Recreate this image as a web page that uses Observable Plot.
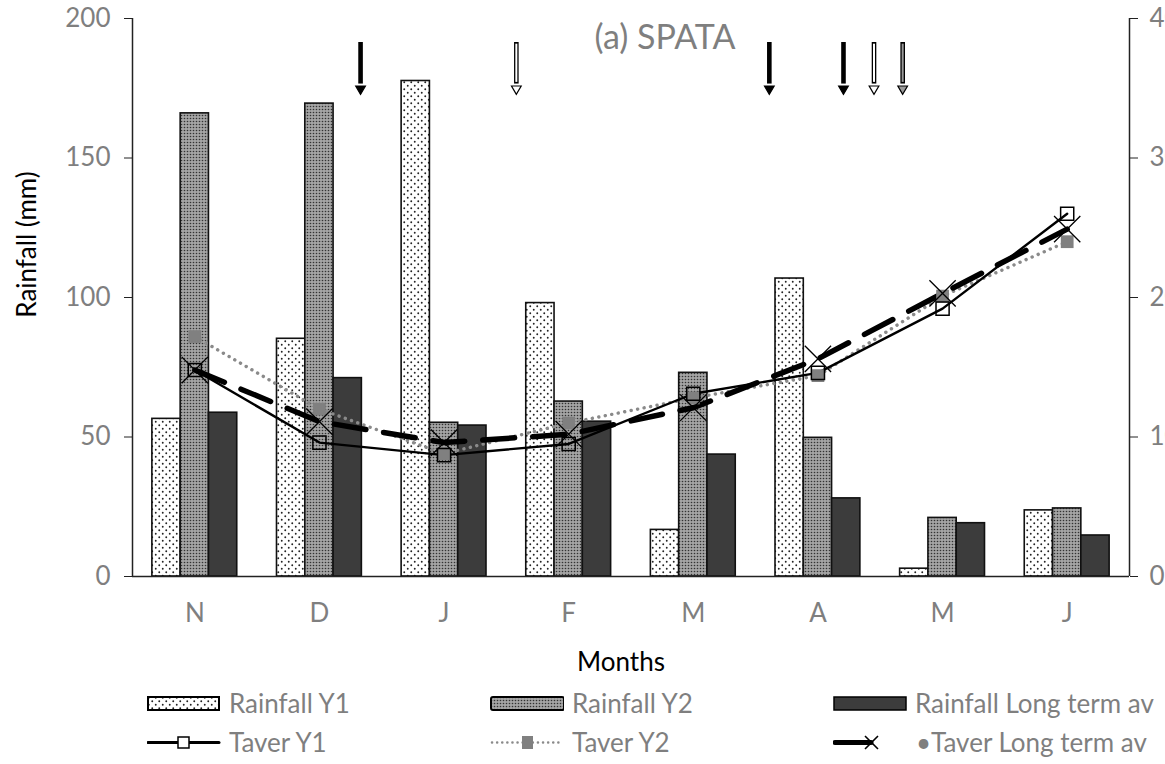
<!DOCTYPE html>
<html>
<head>
<meta charset="utf-8">
<script src="https://cdn.jsdelivr.net/npm/d3@7"></script>
<script src="https://cdn.jsdelivr.net/npm/@observablehq/plot@0.6"></script>
<style>
  body { margin: 0; background: #fff; font-family: Lato, "Open Sans", sans-serif; }
  #chart svg { display: block; }
  #legend { position: relative; width: 1165px; height: 84px; }
  .item { position: absolute; display: flex; align-items: center; height: 30px; }
  .item span { font-size: 26px; color: #7f7f7f; margin-left: 8px; white-space: nowrap; }
  .item svg { display: block; }
</style>
</head>
<body>
<div id="chart"></div>
<div id="legend"></div>
<script>
// Months of the growing season (November to June)
const months = ["N", "D", "J", "F", "M", "A", "M", "J"];

// Monthly rainfall (mm)
const rainY1 = [56.5, 85.2, 177.6, 98, 16.7, 106.8, 2.8, 23.7];
const rainY2 = [166, 169.5, 55.1, 62.7, 73, 49.7, 21, 24.4];
const rainLT = [58.7, 71.1, 54.1, 55.5, 43.7, 28, 19.1, 14.7];

// Mean air temperature (°C)
const tempY1 = [14.8, 9.6, 8.7, 9.5, 13.1, 14.6, 19.2, 26.0];
const tempY2 = [17.2, 12.0, 8.8, 11.0, 12.8, 14.4, 20.1, 24.0];
const tempLT = [14.8, 11.1, 9.6, 10.2, 12.1, 15.6, 20.3, 24.9];

// Field operations marked by arrows (position in months from start of November)
const eventAt = [1.83, 3.08, 5.11, 5.705, 5.95, 6.18];
const eventKind = ["black", "white", "black", "black", "white", "gray"];

// Axis ticks
const rainTicks = [0, 50, 100, 150, 200];
const tempTicks = [0, 10, 20, 30, 40];

// Temperature axis (0–40) shares the rainfall axis (0–200)
const tScale = 200 / 40;
const bw = 0.227; // bar width in month units

const rows = (vals) => vals.map((v, i) => ({ i, v }));
const barMark = (vals, k, fill) =>
  Plot.rectY(rows(vals), {
    x1: d => d.i + 0.5 + (k - 1.5) * bw,
    x2: d => d.i + 0.5 + (k - 0.5) * bw,
    y1: 0, y2: "v",
    fill, stroke: "#111", strokeWidth: 1.6
  });

const tRows = (vals) => vals.map((t, i) => ({ x: i + 0.5, y: t * tScale }));
const events = eventAt.map((x, j) => ({ x, kind: eventKind[j] }));
const evTop = 191.4, evShaftEnd = 176.5, evHead = 174.8;

const gray = "#7f7f7f";

const chart = Plot.plot({
  width: 1165,
  height: 680,
  marginLeft: 132,
  marginRight: 36,
  marginTop: 18,
  marginBottom: 104,
  x: { domain: [0, 8] },
  y: { domain: [0, 200] },
  style: { fontFamily: "Lato, 'Open Sans', sans-serif", background: "white" },
  marks: [
    barMark(rainY1, 0, "url(#pY1)"),
    barMark(rainY2, 1, "url(#pY2)"),
    barMark(rainLT, 2, "#3c3c3c"),

    // frame lines
    Plot.ruleX([0, 8], { stroke: "#222", strokeWidth: 1.5 }),
    Plot.ruleY([0], { stroke: "#222", strokeWidth: 1.5 }),

    // temperature series
    Plot.line(tRows(tempY2), { x: "x", y: "y", stroke: "#8a8a8a", strokeWidth: 3.4, strokeDasharray: "0.1,6.5", strokeLinecap: "round" }),
    Plot.line(tRows(tempY1), { x: "x", y: "y", stroke: "#000", strokeWidth: 2.4 }),
    Plot.line(tRows(tempLT), { x: "x", y: "y", stroke: "#000", strokeWidth: 5.5, strokeDasharray: "32,18", strokeLinecap: "round" }),
    Plot.dot(tRows(tempY2), { x: "x", y: "y", symbol: "square", r: 7.2, fill: "#808080" }),
    Plot.dot(tRows(tempY1), { x: "x", y: "y", symbol: "square", r: 7.4, fill: "none", stroke: "#000", strokeWidth: 1.5 }),
    Plot.dot(tRows(tempLT), { x: "x", y: "y", symbol: "times", r: 12, stroke: "#000", strokeWidth: 1.3 }),

    // event arrows
    Plot.ruleX(events, { x: "x", y1: evShaftEnd, y2: evTop, stroke: "#000", strokeWidth: 4.6 }),
    Plot.ruleX(events.filter(d => d.kind !== "black"), {
      x: "x", y1: evShaftEnd + 0.6, y2: evTop - 0.6,
      stroke: d => d.kind === "white" ? "#fff" : "#9a9a9a", strokeWidth: 2
    }),
    Plot.dot(events, {
      x: "x", y: evHead, symbol: "triangle", rotate: 180, r: 3.6,
      fill: d => d.kind === "black" ? "#000" : d.kind === "white" ? "#fff" : "#9a9a9a",
      stroke: "#000", strokeWidth: 1.2
    }),

    // axes
    Plot.axisY({ ticks: rainTicks, tickSize: 8, tickPadding: 14, fontSize: 26, fill: gray, stroke: "#222", label: null }),
    Plot.axisY({ anchor: "right", ticks: tempTicks.map(t => t * tScale), tickFormat: d => d / tScale, tickSize: 8, tickPadding: 12, fontSize: 26, fill: gray, stroke: "#222", label: null }),
    Plot.axisX({ ticks: months.map((_, i) => i + 0.5), tickFormat: d => months[Math.floor(d)], tickSize: 0, tickPadding: 27, fontSize: 26, fill: gray, label: null }),

    // titles
    Plot.text(["(a) SPATA"], { frameAnchor: "top", textAnchor: "middle", lineAnchor: "middle", dx: 34, dy: 20, fontSize: 34, fill: gray }),
    Plot.text(["Rainfall (mm)"], { frameAnchor: "left", textAnchor: "middle", lineAnchor: "middle", rotate: -90, dx: -105, dy: -53, fontSize: 26, fill: "#000" }),
    Plot.text(["Months"], { frameAnchor: "bottom", textAnchor: "middle", lineAnchor: "middle", dx: -10, dy: 86, fontSize: 26, fill: "#000" })
  ]
});

// Hatch patterns used by the rainfall bars
const defs = d3.select(chart).insert("defs", ":first-child");
const p1 = defs.append("pattern").attr("id", "pY1").attr("patternUnits", "userSpaceOnUse").attr("width", 7).attr("height", 7);
p1.append("rect").attr("width", 7).attr("height", 7).attr("fill", "#fff");
p1.append("circle").attr("cx", 1.75).attr("cy", 1.75).attr("r", 0.95).attr("fill", "#222");
p1.append("circle").attr("cx", 5.25).attr("cy", 5.25).attr("r", 0.95).attr("fill", "#222");
const p2 = defs.append("pattern").attr("id", "pY2").attr("patternUnits", "userSpaceOnUse").attr("width", 3).attr("height", 3);
p2.append("rect").attr("width", 3).attr("height", 3).attr("fill", "#a4a4a4");
p2.append("circle").attr("cx", 1.5).attr("cy", 1.5).attr("r", 0.8).attr("fill", "#333");

document.getElementById("chart").appendChild(chart);

// Legend below the chart
const legendItems = [
  { label: "Rainfall Y1", left: 147, top: 8, sym: `<rect x="1" y="1" width="71" height="13" fill="url(#pY1)" stroke="#000" stroke-width="2"/>` },
  { label: "Rainfall Y2", left: 490, top: 8, sym: `<rect x="1" y="1" width="73" height="13" rx="2" fill="url(#pY2)" stroke="#000" stroke-width="2"/>` },
  { label: "Rainfall Long term av", left: 833, top: 8, sym: `<rect x="1" y="1" width="72" height="13" fill="#3c3c3c" stroke="#000" stroke-width="1.5"/>` },
  { label: "Taver Y1", left: 147, top: 47, sym: `<line x1="1" y1="7.5" x2="72" y2="7.5" stroke="#000" stroke-width="3" stroke-linecap="round"/><rect x="31" y="2" width="11" height="11" fill="#fff" stroke="#000" stroke-width="1.5"/>` },
  { label: "Taver Y2", left: 490, top: 47, sym: `<line x1="2" y1="7.5" x2="73" y2="7.5" stroke="#8a8a8a" stroke-width="2.5" stroke-dasharray="0.1,5" stroke-linecap="round"/><rect x="32" y="1" width="11" height="13" fill="#808080"/>` },
  { label: "•Taver Long term av", left: 833, top: 47, sym: `<line x1="2" y1="7.5" x2="38" y2="7.5" stroke="#000" stroke-width="5" stroke-linecap="round"/><path d="M32,1 L45,14 M45,1 L32,14" stroke="#000" stroke-width="1.6"/>`, gap: 23 }
];
const legend = document.getElementById("legend");
for (const it of legendItems) {
  const el = document.createElement("div");
  el.className = "item";
  el.style.left = it.left + "px";
  el.style.top = it.top + "px";
  el.innerHTML = `<svg width="74" height="15" viewBox="0 0 74 15">${it.sym}</svg><span${it.gap ? ` style="margin-left:${it.gap - 14}px"` : ""}>${it.label}</span>`;
  legend.appendChild(el);
}
</script>
</body>
</html>
